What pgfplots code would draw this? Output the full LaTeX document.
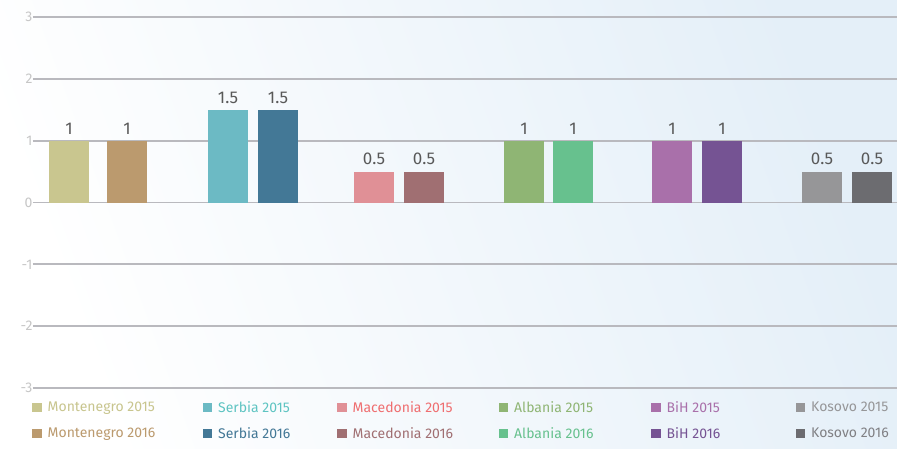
\documentclass[border=0pt]{standalone}
\usepackage{pgfplots}
\pgfplotsset{compat=1.18}
\usepackage{fontspec}
\setmainfont{Fira Sans}
\definecolor{cA1}{HTML}{C9C68F}
\definecolor{cA2}{HTML}{BB9A6E}
\definecolor{cB1}{HTML}{6CBAC4}
\definecolor{cB2}{HTML}{437896}
\definecolor{cC1}{HTML}{E09096}
\definecolor{cC2}{HTML}{A06F72}
\definecolor{cD1}{HTML}{8FB574}
\definecolor{cD2}{HTML}{67C18E}
\definecolor{cE1}{HTML}{A970AA}
\definecolor{cE2}{HTML}{755393}
\definecolor{cF1}{HTML}{969698}
\definecolor{cF2}{HTML}{6C6C70}
\definecolor{tA1}{HTML}{C8C58E}
\definecolor{tA2}{HTML}{BB9A6E}
\definecolor{tB1}{HTML}{5EC4C2}
\definecolor{tB2}{HTML}{437896}
\definecolor{tC1}{HTML}{EF6E70}
\definecolor{tC2}{HTML}{A06F72}
\definecolor{tD1}{HTML}{8FB574}
\definecolor{tD2}{HTML}{67C18E}
\definecolor{tE1}{HTML}{A970AA}
\definecolor{tE2}{HTML}{755393}
\definecolor{tF1}{HTML}{969698}
\definecolor{tF2}{HTML}{808084}
\definecolor{gridc}{HTML}{B9B9BE}
\definecolor{bgr}{HTML}{E4EFF8}
\newcommand{\legtxt}[3]{\makebox[#1][l]{\hspace*{4pt}\textcolor{#2}{#3}}}
\begin{document}
\begin{tikzpicture}[x=1pt,y=1pt]
\useasboundingbox (0,0) rectangle (897,448);
\shade[left color=white,right color=bgr,shading angle=110] (0,0) rectangle (897,448);
\begin{axis}[
  at={(33pt,60pt)}, anchor=south west,
  scale only axis, width=864pt, height=371pt,
  xmin=33, xmax=897, ymin=-3, ymax=3,
  ytick={-3,-2,-1,0,1,2,3},
  xtick=\empty,
  ymajorgrids, grid style={gridc, line width=1.8pt},
  axis line style={draw=none},
  major tick length=0pt,
  yticklabel style={font=\fontsize{14}{15}\selectfont, text=gray!45, xshift=3pt},
  /pgf/number format/assume math mode=true,
  ybar, bar width=40,
  nodes near coords,
  every node near coord/.append style={font=\fontsize{17}{18}\selectfont, text=black!65, yshift=3pt},
  clip=false,
  legend columns=6,
  legend cell align=left,
  legend style={at={(axis cs:33,-3)}, anchor=north west, yshift=-9pt, xshift=-4pt,
    draw=none, fill=none, font=\fontsize{14}{16}\selectfont,
    row sep=10pt,
    /tikz/every even column/.append style={column sep=0pt}},
  legend image code/.code={\fill[#1] (0pt,-4.5pt) rectangle (9.5pt,4.5pt);},
]
\addplot[fill=cA1, draw=none, bar shift=0pt] coordinates {(69,1)};
\addlegendentry{\legtxt{157pt}{tA1}{Montenegro 2015}}
\addplot[fill=cB1, draw=none, bar shift=0pt] coordinates {(228,1.5)};
\addlegendentry{\legtxt{121pt}{tB1}{Serbia 2015}}
\addplot[fill=cC1, draw=none, bar shift=0pt] coordinates {(374,0.5)};
\addlegendentry{\legtxt{148pt}{tC1}{Macedonia 2015}}
\addplot[fill=cD1, draw=none, bar shift=0pt] coordinates {(524,1)};
\addlegendentry{\legtxt{139pt}{tD1}{Albania 2015}}
\addplot[fill=cE1, draw=none, bar shift=0pt] coordinates {(672,1)};
\addlegendentry{\legtxt{131pt}{tE1}{BiH 2015}}
\addplot[fill=cF1, draw=none, bar shift=0pt] coordinates {(822,0.5)};
\addlegendentry{\legtxt{86pt}{tF1}{Kosovo 2015}}
\addplot[fill=cA2, draw=none, bar shift=0pt] coordinates {(127,1)};
\addlegendentry{\legtxt{157pt}{tA2}{Montenegro 2016}}
\addplot[fill=cB2, draw=none, bar shift=0pt] coordinates {(278,1.5)};
\addlegendentry{\legtxt{121pt}{tB2}{Serbia 2016}}
\addplot[fill=cC2, draw=none, bar shift=0pt] coordinates {(424,0.5)};
\addlegendentry{\legtxt{148pt}{tC2}{Macedonia 2016}}
\addplot[fill=cD2, draw=none, bar shift=0pt] coordinates {(573,1)};
\addlegendentry{\legtxt{139pt}{tD2}{Albania 2016}}
\addplot[fill=cE2, draw=none, bar shift=0pt] coordinates {(722,1)};
\addlegendentry{\legtxt{131pt}{tE2}{BiH 2016}}
\addplot[fill=cF2, draw=none, bar shift=0pt] coordinates {(872,0.5)};
\addlegendentry{\legtxt{86pt}{tF2}{Kosovo 2016}}
\end{axis}
\end{tikzpicture}
\end{document}
